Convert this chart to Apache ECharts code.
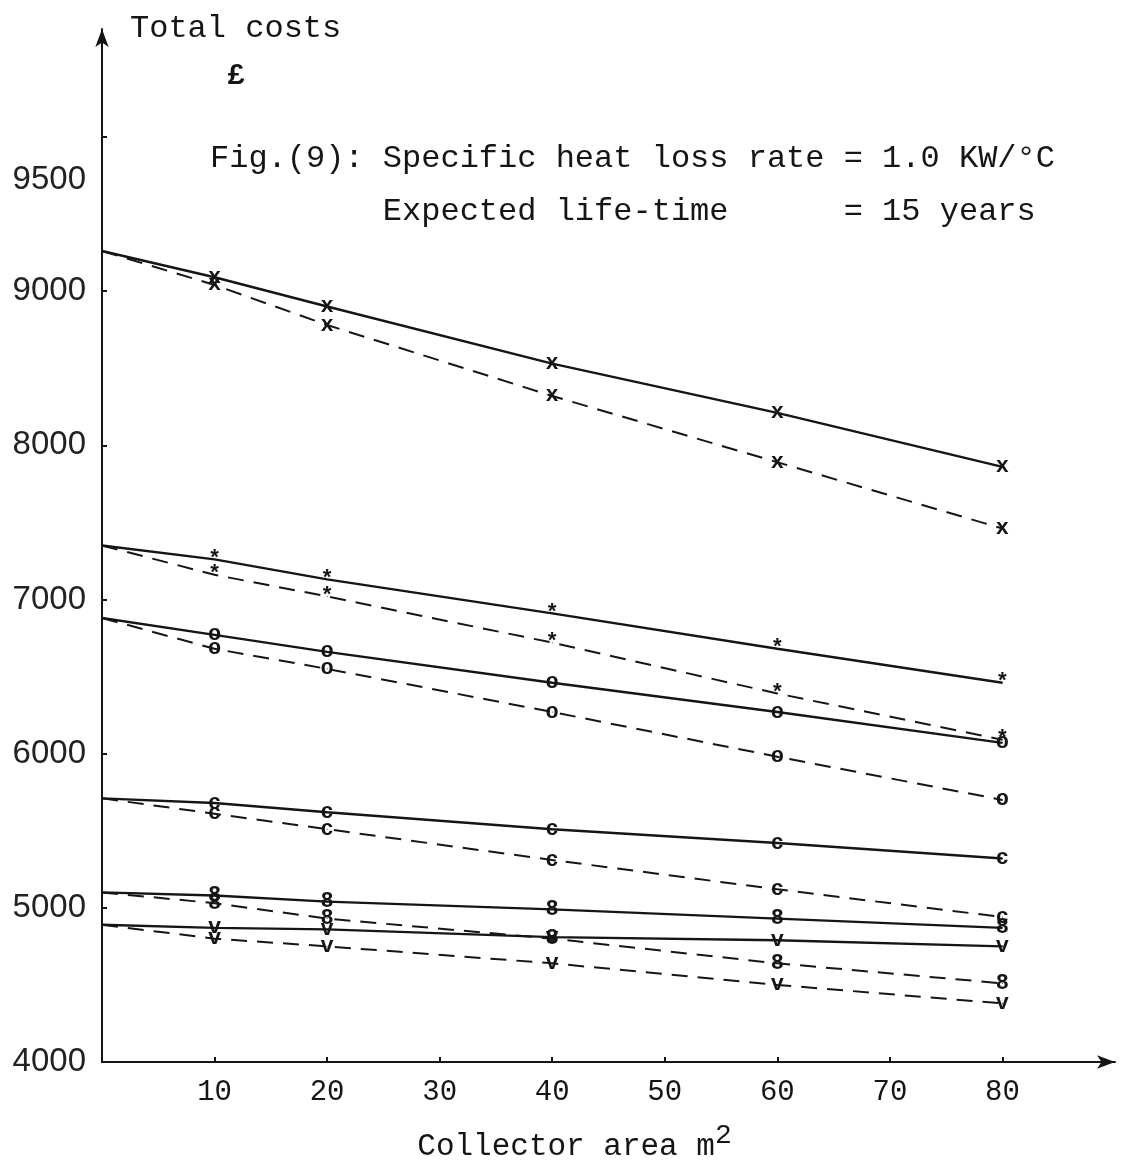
<!DOCTYPE html>
<html>
<head>
<meta charset="utf-8">
<script src="https://cdn.jsdelivr.net/npm/echarts@6/dist/echarts.min.js"></script>
<style>
html,body{margin:0;padding:0;background:#fff;}
#chart{width:1122px;height:1162px;}
</style>
</head>
<body>
<div id="chart"></div>
<script>
// Collector area (m2)
const areas = [0, 10, 20, 40, 60, 80];
// Total costs (£), solid and dashed curves
const solidA = [9260, 9090, 8900, 8530, 8210, 7860];
const dashA  = [9260, 9040, 8780, 8320, 7890, 7460];
const solidB = [7350, 7260, 7130, 6910, 6680, 6460];
const dashB  = [7350, 7160, 7020, 6720, 6390, 6090];
const solidC = [6880, 6770, 6660, 6460, 6270, 6070];
const dashC  = [6880, 6680, 6550, 6270, 5980, 5700];
const solidD = [5710, 5680, 5620, 5510, 5420, 5320];
const dashD  = [5710, 5610, 5510, 5310, 5120, 4940];
const solidE = [5100, 5080, 5040, 4990, 4930, 4870];
const dashE  = [5100, 5030, 4930, 4800, 4640, 4510];
const solidF = [4890, 4870, 4860, 4810, 4790, 4750];
const dashF  = [4890, 4800, 4750, 4640, 4500, 4380];
const markers = ['x', 'x', '*', '*', 'o', 'o', 'c', 'c', '8', '8', 'v', 'v'];

const xTickLabels = [10, 20, 30, 40, 50, 60, 70, 80];
const yTickLabels = [4000, 5000, 6000, 7000, 8000, 9000, 9500];
const yTicks = [4000, 5000, 6000, 7000, 8000, 9000, 10000];

const titleLine1 = 'Fig.(9): Specific heat loss rate = 1.0 KW/°C';
const titleLine2 = '         Expected life-time      = 15 years';

const allSeries = [solidA, dashA, solidB, dashB, solidC, dashC, solidD, dashD, solidE, dashE, solidF, dashF];

const ink = '#151515';
const mono = '"Liberation Mono", "DejaVu Sans Mono", monospace';
const sans = '"Liberation Sans", Arial, sans-serif';

const series = allSeries.map(function (vals, i) {
  const dashed = i % 2 === 1;
  return {
    type: 'line',
    data: areas.map(function (a, k) { return [a, vals[k]]; }),
    symbol: 'circle',
    symbolSize: 1,
    showSymbol: true,
    itemStyle: { color: ink },
    lineStyle: { color: ink, width: dashed ? 2 : 2.4, type: dashed ? [16, 10] : 'solid' },
    label: {
      show: true,
      position: 'inside',
      formatter: function (p) { return p.value[0] === 0 ? '' : markers[i]; },
      fontFamily: mono,
      fontWeight: 'bold',
      fontSize: 22,
      color: ink
    },
    animation: false,
    silent: true,
    z: dashed ? 2 : 3
  };
});

const chart = echarts.init(document.getElementById('chart'), null, { renderer: 'canvas' });
chart.setOption({
  backgroundColor: '#ffffff',
  animation: false,
  title: [
    { text: 'Total costs', left: 125, top: 8,
      textStyle: { fontFamily: mono, fontSize: 32, fontWeight: 'normal', color: ink } },
    { text: '£', left: 222, top: 56,
      textStyle: { fontFamily: mono, fontSize: 30, fontWeight: 'bold', color: ink } },
    { text: titleLine1, left: 205, top: 138,
      textStyle: { fontFamily: mono, fontSize: 32, fontWeight: 'normal', color: ink } },
    { text: titleLine2, left: 205, top: 191,
      textStyle: { fontFamily: mono, fontSize: 32, fontWeight: 'normal', color: ink } }
  ],
  grid: { left: 102, right: 7, top: 29, bottom: 100, containLabel: false, outerBoundsMode: 'none' },
  xAxis: {
    type: 'value',
    min: 0, max: 90, interval: 10,
    name: 'Collector area m{sup|2}',
    nameLocation: 'middle',
    nameGap: 60,
    nameTextStyle: {
      fontFamily: mono, fontSize: 31, color: ink,
      padding: [0, 68, 0, 0],
      rich: { sup: { fontFamily: mono, fontSize: 28, color: ink, padding: [0, 0, 22, 0] } }
    },
    splitLine: { show: false },
    axisLine: { show: true, onZero: false, lineStyle: { color: ink, width: 2 },
      symbol: ['none', 'arrow'], symbolSize: [10, 18] },
    axisTick: { show: true, inside: true, length: 5, lineStyle: { color: ink, width: 2 },
      customValues: xTickLabels },
    axisLabel: { show: true, margin: 16, fontFamily: mono, fontSize: 29, color: ink,
      customValues: xTickLabels }
  },
  yAxis: {
    type: 'value',
    min: 4000, max: 10700, interval: 500,
    splitLine: { show: false },
    axisLine: { show: true, onZero: false, lineStyle: { color: ink, width: 2 },
      symbol: ['none', 'arrow'], symbolSize: [10, 18] },
    axisTick: { show: true, inside: true, length: 5, lineStyle: { color: ink, width: 2 },
      customValues: yTicks },
    axisLabel: {
      show: true, margin: 16, fontFamily: sans,
      fontSize: 33, color: '#222',
      customValues: yTickLabels,
      formatter: function (v) { return v === 9500 ? '{up|9500}' : String(v); },
      rich: { up: { fontFamily: sans, fontSize: 33, color: '#222', padding: [0, 0, 68, 0] } }
    }
  },
  series: series
});
</script>
</body>
</html>
